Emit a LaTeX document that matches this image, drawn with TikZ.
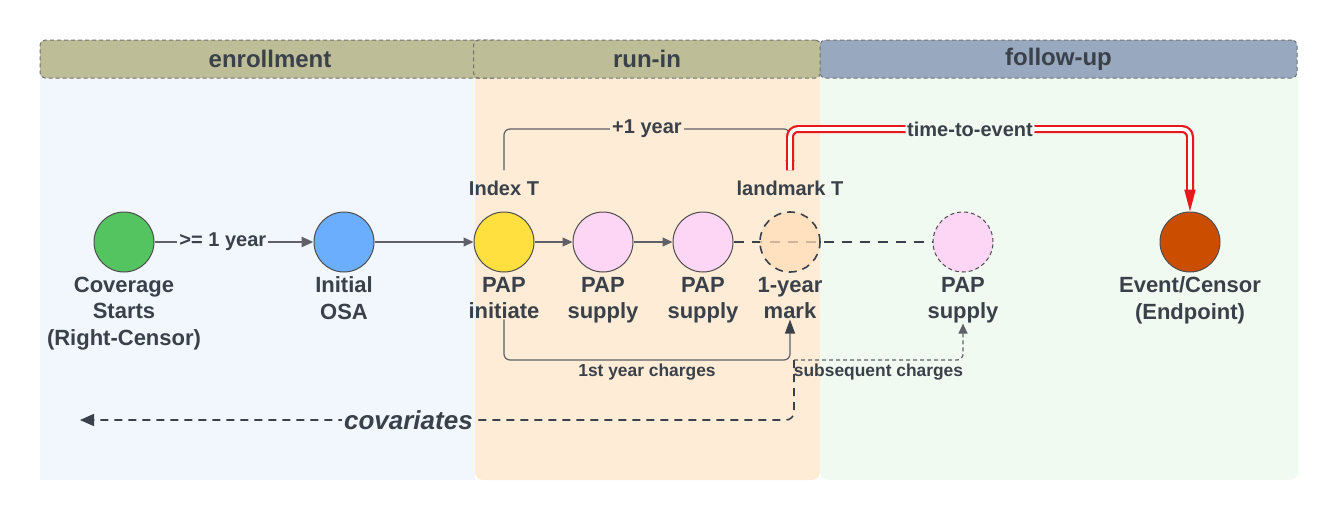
\documentclass[tikz,border=0pt]{standalone}
\usepackage{fontspec}
\setmainfont{Liberation Sans}
\usetikzlibrary{arrows.meta}

\definecolor{ink}{HTML}{3A414A}
\definecolor{wire}{HTML}{5F6167}
\definecolor{rim}{HTML}{4D4D4D}
\definecolor{enrbg}{HTML}{F2F7FE}
\definecolor{runbg}{HTML}{FFECD6}
\definecolor{folbg}{HTML}{F0FAF0}
\definecolor{olivehd}{HTML}{BDBD97}
\definecolor{bluehd}{HTML}{98A8BE}
\definecolor{covgreen}{HTML}{53C45F}
\definecolor{osablue}{HTML}{6AAEFD}
\definecolor{papyellow}{HTML}{FFE03E}
\definecolor{pappink}{HTML}{FDD5F5}
\definecolor{markorange}{HTML}{FFDDB8}
\definecolor{eventred}{HTML}{CB4E00}
\definecolor{ttered}{HTML}{E8171B}

\pgfdeclarelayer{back}
\pgfdeclarelayer{mid}
\pgfsetlayers{back,mid,main}

\begin{document}
\begin{tikzpicture}[x=0.5pt,y=-0.5pt,>={Triangle[length=5pt,width=4.5pt]},
    main node/.style={circle,draw=rim,line width=0.5pt,minimum size=30pt,inner sep=0pt},
    name text/.style={anchor=north,align=center,inner sep=0pt,text=ink,
                      font=\bfseries\fontsize{11}{13.3}\selectfont},
    time text/.style={text=ink,inner sep=1pt,font=\bfseries\fontsize{10}{12}\selectfont},
    charge text/.style={text=ink,inner sep=1.5pt,font=\bfseries\fontsize{8.7}{10}\selectfont},
    phase/.style={draw=rim!80,line width=0.5pt,dash pattern=on 2pt off 1.5pt,
                  rounded corners=2.5pt,minimum height=19pt,inner sep=0pt,text=ink,
                  font=\bfseries\fontsize{12}{14}\selectfont}]

  \useasboundingbox (0,0) rectangle (1340,520);

  % phases
  \begin{pgfonlayer}{back}
    \fill[folbg, rounded corners=4pt] (820,70) rectangle (1298,480);
    \fill[runbg, rounded corners=4pt] (475,70) rectangle (820,480);
    \fill[enrbg] (40,70) rectangle (475,480);
  \end{pgfonlayer}
  \node[phase, fill=olivehd, minimum width=230pt] (enr) at (270,59) {enrollment};
  \node[phase, fill=olivehd, minimum width=173.5pt] (run) at (647,59) {run-in};
  \node[phase, fill=bluehd, minimum width=238.5pt] (fol) at (1058.5,59) {follow-up};

  % timeline
  \node[main node, fill=covgreen] (cov) at (124,242) {};
  \node[main node, fill=osablue] (osa) [right of=cov, node distance=110pt] {};
  \node[main node, fill=papyellow] (init) [right of=osa, node distance=80pt] {};
  \node[main node, fill=pappink] (sup1) [right of=init, node distance=49.5pt] {};
  \node[main node, fill=pappink] (sup2) [right of=sup1, node distance=50pt] {};
  \node[main node, draw=ink, line width=0.8pt, dash pattern=on 4pt off 3pt,
        fill=markorange, fill opacity=0.75] (mark) [right of=sup2, node distance=43.5pt] {};
  \node[main node, fill=pappink, dash pattern=on 2pt off 1.5pt] (sup3) [right of=mark, node distance=86.5pt] {};
  \node[main node, fill=eventred] (event) [right of=sup3, node distance=113.5pt] {};

  \node[name text] (covt) at ([yshift=-2pt]cov.south) {Coverage\\Starts\\(Right-Censor)};
  \node[name text] (osat) at ([yshift=-2pt]osa.south) {Initial\\OSA};
  \node[name text] (initt) at ([yshift=-2pt]init.south) {PAP\\initiate};
  \node[name text] (sup1t) at ([yshift=-2pt]sup1.south) {PAP\\supply};
  \node[name text] (sup2t) at ([yshift=-2pt]sup2.south) {PAP\\supply};
  \node[name text] (markt) at ([yshift=-2pt]mark.south) {1-year\\mark};
  \node[name text] (sup3t) at ([yshift=-2pt]sup3.south) {PAP\\supply};
  \node[name text] (eventt) at ([yshift=-2pt]event.south) {Event/Censor\\(Endpoint)};

  \node[time text, inner sep=5pt] (idx) [above of=init, node distance=27pt] {Index T};
  \node[time text, inner sep=5pt] (lmk) [above of=mark, node distance=27pt] {landmark T};

  \coordinate (ridge) at (0,129);
  \coordinate (floor) at (0,360);
  \coordinate (j) at (794,360);
  \coordinate (cvend) at (80,420);

  \draw[wire, line width=1.2pt, ->, >={Triangle[length=6pt,width=5pt]}]
    (cov) -- node[time text, fill=enrbg, pos=0.43] {>= 1 year} (osa);
  \draw[wire, line width=0.6pt, ->] (osa) -- (init);
  \draw[wire, line width=0.6pt, ->] (init) -- (sup1);
  \draw[wire, line width=0.6pt, ->] (sup1) -- (sup2);
  \begin{pgfonlayer}{mid}
    \draw[ink, line width=0.9pt, dash pattern=on 5pt off 4pt] (sup2) -- (sup3);
  \end{pgfonlayer}

  % index to landmark
  \draw[wire, line width=0.6pt, ->, rounded corners=3pt]
    (idx) -- (idx |- ridge) -- node[time text, fill=runbg] {+1 year} (lmk |- ridge) -- (lmk);
  \draw[draw=ttered, double=white, line width=1.1pt, double distance=1.8pt,
        rounded corners=4pt, shorten >=10pt]
    (lmk) -- (lmk |- ridge) -- node[time text, fill=folbg, pos=0.45] {time-to-event} (event |- ridge) -- (event);
  \draw[ttered, line width=1pt, -{Triangle[length=11pt,width=5.5pt]}]
    ([yshift=11pt]event.north) -- (event.north);

  % charges
  \draw[wire, line width=0.6pt, -{Triangle[length=7pt,width=5pt,color=ink]}, rounded corners=3pt]
    (initt) -- (initt |- floor) -- node[charge text, below] {1st year charges} (markt |- floor) -- (markt);
  \draw[wire, line width=0.6pt, dash pattern=on 2pt off 1.5pt, ->, rounded corners=3pt]
    (j) -- node[charge text, below] {subsequent charges} (sup3t |- j) -- (sup3t);
  \draw[ink, line width=0.8pt, dash pattern=on 4pt off 3pt, rounded corners=4pt,
        -{Triangle[length=7pt,width=6pt]}]
    (j) -- (j |- cvend) -- node[pos=0.54, fill=enrbg, inner sep=1pt, text=ink,
      font=\bfseries\itshape\fontsize{13}{15}\selectfont] {covariates} (cvend);
\end{tikzpicture}
\end{document}
